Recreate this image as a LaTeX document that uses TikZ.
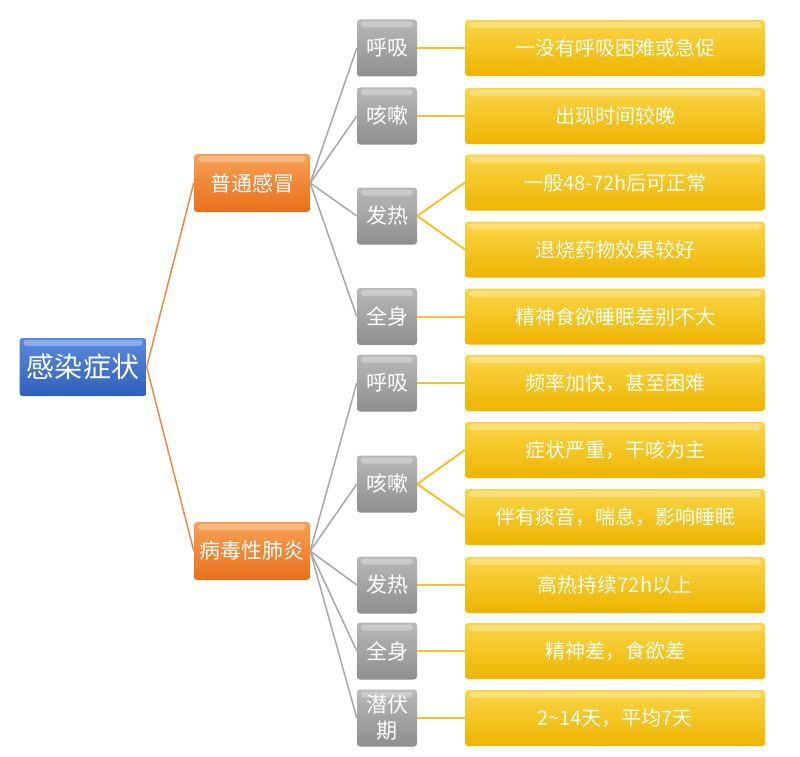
\documentclass[tikz,border=0pt]{standalone}
\usepackage{fontspec}
\setmainfont{Noto Sans CJK SC}
\definecolor{blueA}{HTML}{5A8BE0}
\definecolor{blueB}{HTML}{2F5FB8}
\definecolor{orA}{HTML}{F7A055}
\definecolor{orB}{HTML}{E8701A}
\definecolor{grA}{HTML}{B8B8B8}
\definecolor{grB}{HTML}{8E8E8E}
\definecolor{yeA}{HTML}{FAD648}
\definecolor{yeB}{HTML}{EEB400}
\definecolor{lnOr}{HTML}{EE8A45}
\definecolor{lnGr}{HTML}{A8A8A8}
\definecolor{lnYe}{HTML}{F2C32A}
\tikzset{
  box/.style={rounded corners=3pt, text=white, inner sep=0pt, align=center,
    path picture={\fill[white,opacity=0.3]
      ([xshift=4pt,yshift=-2pt]path picture bounding box.north west) rectangle
      ([xshift=-4pt,yshift=-8pt]path picture bounding box.north east);}},
  rootbox/.style={box, top color=blueA, bottom color=blueB, minimum width=127pt, minimum height=58pt, font=\fontsize{28}{30}\selectfont},
  catbox/.style={box, top color=orA, bottom color=orB, minimum width=116pt, minimum height=58pt, font=\fontsize{21}{23}\selectfont},
  grbox/.style={box, top color=grA, bottom color=grB, minimum width=60pt, minimum height=57pt, font=\fontsize{21}{26}\selectfont},
  yebox/.style={box, top color=yeA, bottom color=yeB, minimum width=300pt, minimum height=56pt, text=white!95!yellow, font=\fontsize{20}{22}\selectfont},
  orline/.style={draw=lnOr, line width=1.5pt},
  grline/.style={draw=lnGr, line width=1.5pt},
  yeline/.style={draw=lnYe, line width=2pt},
}
\begin{document}
\begin{tikzpicture}[x=1pt,y=-1pt]
\useasboundingbox[fill=white] (0,0) rectangle (800,757);
% root and categories
\node[rootbox] (root) at (83,367) {感染症状};
\node[catbox] (c1) at (252,183) {普通感冒};
\node[catbox] (c2) at (252,551) {病毒性肺炎};
% gray
\node[grbox] (g1) at (387,48) {呼吸};
\node[grbox] (g2) at (387,116) {咳嗽};
\node[grbox] (g3) at (387,216) {发热};
\node[grbox] (g4) at (387,316.5) {全身};
\node[grbox] (g5) at (387,383) {呼吸};
\node[grbox] (g6) at (387,484) {咳嗽};
\node[grbox] (g7) at (387,585) {发热};
\node[grbox] (g8) at (387,651) {全身};
\node[grbox] (g9) at (387,718) {潜伏\\期};
% yellow
\node[yebox] (y1) at (615,48) {一没有呼吸困难或急促};
\node[yebox] (y2) at (615,116) {出现时间较晚};
\node[yebox] (y3) at (615,182.5) {一般48-72h后可正常};
\node[yebox] (y4) at (615,249.5) {退烧药物效果较好};
\node[yebox] (y5) at (615,316.5) {精神食欲睡眠差别不大};
\node[yebox] (y6) at (615,383) {频率加快，甚至困难};
\node[yebox] (y7) at (615,450) {症状严重，干咳为主};
\node[yebox] (y8) at (615,517) {伴有痰音，喘息，影响睡眠};
\node[yebox] (y9) at (615,585) {高热持续72h以上};
\node[yebox] (y10) at (615,651) {精神差，食欲差};
\node[yebox] (y11) at (615,718) {2\textasciitilde14天，平均7天};
% connectors
\draw[orline] (root.east) -- (c1.west);
\draw[orline] (root.east) -- (c2.west);
\foreach \g in {g1,g2,g3,g4} \draw[grline] (c1.east) -- (\g.west);
\foreach \g in {g5,g6,g7,g8,g9} \draw[grline] (c2.east) -- (\g.west);
\draw[yeline] (g1.east) -- (y1.west);
\draw[yeline] (g2.east) -- (y2.west);
\draw[yeline] (g3.east) -- (y3.west);
\draw[yeline] (g3.east) -- (y4.west);
\draw[yeline] (g4.east) -- (y5.west);
\draw[yeline] (g5.east) -- (y6.west);
\draw[yeline] (g6.east) -- (y7.west);
\draw[yeline] (g6.east) -- (y8.west);
\draw[yeline] (g7.east) -- (y9.west);
\draw[yeline] (g8.east) -- (y10.west);
\draw[yeline] (g9.east) -- (y11.west);
\end{tikzpicture}
\end{document}
